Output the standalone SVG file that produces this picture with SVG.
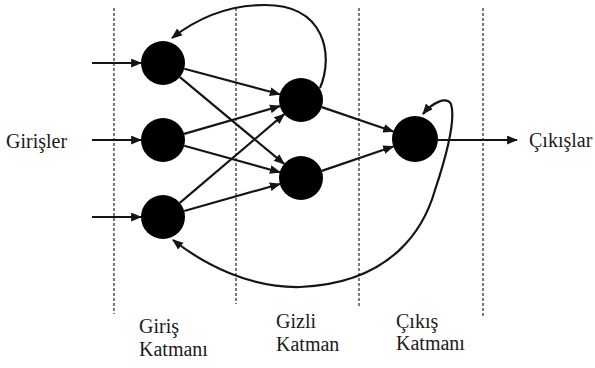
<svg xmlns="http://www.w3.org/2000/svg" width="595" height="368" viewBox="0 0 595 368">
<style>
.sep{stroke:#7a7a7a;stroke-width:2;stroke-dasharray:3 2;fill:none}
.edge{stroke:#151515;stroke-width:2.2;fill:none;marker-end:url(#arr)}
.node{fill:#000}
.lbl{font-family:"Liberation Serif","Times New Roman",serif;font-size:20px;fill:#1a1a1a}
</style>
<defs>
<marker id="arr" viewBox="0 0 10 8" refX="9" refY="4" markerWidth="11" markerHeight="9" markerUnits="userSpaceOnUse" orient="auto-start-reverse">
<path d="M0,0 L10,4 L0,8 z" fill="#151515"/>
</marker>
</defs>
<g id="separators">
<line class="sep" x1="114" y1="8" x2="114" y2="314"/>
<line class="sep" x1="236" y1="8" x2="236" y2="304"/>
<line class="sep" x1="359" y1="8" x2="359" y2="306"/>
<line class="sep" x1="483" y1="8" x2="483" y2="316"/>
</g>
<g id="connectors">
<path class="edge" d="M92 63 L141 63"/>
<path class="edge" d="M92 140 L141 140"/>
<path class="edge" d="M92 217 L141 217"/>
<path class="edge" d="M184.3 68.7 L279.7 94.3"/>
<path class="edge" d="M179.9 77.1 L284.1 163.9"/>
<path class="edge" d="M184.1 133.9 L279.9 106.1"/>
<path class="edge" d="M184.2 145.8 L279.8 172.2"/>
<path class="edge" d="M179.8 202.8 L284.2 114.2"/>
<path class="edge" d="M184.2 211 L279.8 184"/>
<path class="edge" d="M321.8 107.1 L393.2 131.5"/>
<path class="edge" d="M321.8 170.9 L393.2 146.5"/>
<path class="edge" d="M438 140 L517 140"/>
<path class="edge" d="M320 88 C334 55 325 5 265 5 C225 5 195 20 172 38"/>
<path class="edge" style="marker-start:url(#arr)" d="M423 114 C432 103 446 96 451 104 C456 120 445 160 435 190 C425 225 395 283 300 287 C250 288 205 265 173 240"/>
</g>
<g id="n_in1"><circle class="node" cx="163" cy="63" r="22"/></g>
<g id="n_in2"><circle class="node" cx="163" cy="140" r="22"/></g>
<g id="n_in3"><circle class="node" cx="163" cy="217" r="22"/></g>
<g id="n_h1"><circle class="node" cx="301" cy="100" r="22"/></g>
<g id="n_h2"><circle class="node" cx="301" cy="178" r="22"/></g>
<g id="n_out"><circle class="node" cx="415" cy="139" r="23"/></g>
<g id="labels">
<text class="lbl" x="6" y="148">Girişler</text>
<text class="lbl" x="529" y="147">Çıkışlar</text>
<text class="lbl" x="139" y="333">Giriş</text>
<text class="lbl" x="139" y="356">Katmanı</text>
<text class="lbl" x="276" y="328">Gizli</text>
<text class="lbl" x="276" y="351">Katman</text>
<text class="lbl" x="396" y="328">Çıkış</text>
<text class="lbl" x="396" y="350">Katmanı</text>
</g>
</svg>
